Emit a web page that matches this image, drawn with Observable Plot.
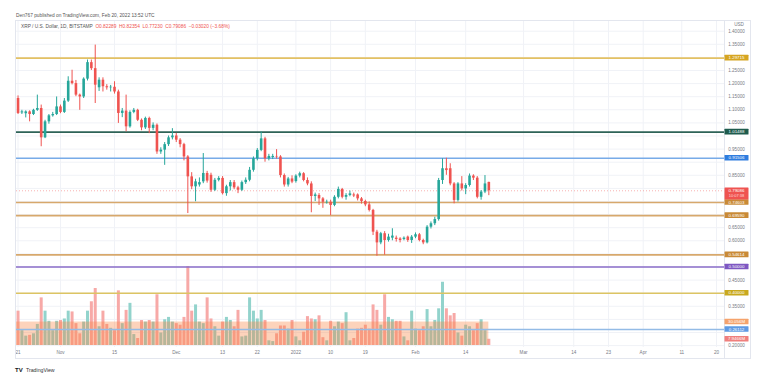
<!DOCTYPE html>
<html><head><meta charset="utf-8">
<script src="https://cdn.jsdelivr.net/npm/d3@7"></script>
<script src="https://cdn.jsdelivr.net/npm/@observablehq/plot@0.6"></script>
<style>
html,body{margin:0;padding:0;background:#fff}
#wrap{position:relative;width:760px;height:383px;overflow:hidden;background:#fff}
#wrap svg{position:absolute;left:0;top:0}
</style></head><body><div id="wrap"></div>
<script>
// ---------- DATA ----------
const startDay = "2021-10-21"; // first daily candle, one candle per day
const openP = [
1.143,1.088,1.085,1.092,1.082,1.098,1.105,0.993,1.054,1.077,1.082,
1.111,1.090,1.133,1.209,1.200,1.156,1.149,1.217,1.280,1.257,1.184,1.213,1.188,1.184,1.186,1.168,1.086,1.095,1.035,1.090,1.098,1.060,1.031,1.067,1.029,1.041,0.939,0.946,0.967,0.993,
1.000,0.984,0.967,0.920,0.844,0.806,0.813,0.825,0.857,0.850,0.793,0.831,0.838,0.780,0.806,0.822,0.802,0.793,0.822,0.831,0.869,0.913,0.945,0.989,0.913,0.918,0.922,0.920,0.849,0.813,0.836,
0.826,0.847,0.856,0.830,0.817,0.769,0.773,0.760,0.745,0.747,0.735,0.766,0.796,0.766,0.773,0.775,0.775,0.760,0.750,0.737,0.716,0.633,0.592,0.627,0.601,0.610,0.610,0.607,0.605,0.614,0.601,
0.614,0.623,0.601,0.592,0.652,0.665,0.681,0.830,0.875,0.875,0.817,0.754,0.817,0.798,0.811,0.847,0.839,0.766,0.786,0.82289];
const highP = [
1.153,1.098,1.096,1.096,1.102,1.156,1.118,1.060,1.082,1.090,1.149,
1.118,1.143,1.226,1.251,1.212,1.160,1.222,1.290,1.290,1.347,1.222,1.222,1.196,1.193,1.207,1.175,1.105,1.156,1.096,1.105,1.102,1.065,1.072,1.072,1.050,1.046,0.955,0.975,1.000,1.028,
1.010,0.990,0.972,0.925,0.860,0.835,0.840,0.933,0.865,0.858,0.838,0.845,0.845,0.812,0.830,0.830,0.808,0.828,0.840,0.880,0.920,0.952,1.015,0.995,0.930,0.930,0.948,0.925,0.855,0.842,0.848,
0.852,0.862,0.860,0.840,0.825,0.782,0.780,0.765,0.755,0.755,0.772,0.805,0.800,0.780,0.790,0.782,0.779,0.765,0.755,0.748,0.720,0.640,0.632,0.635,0.625,0.646,0.618,0.612,0.615,0.618,0.620,
0.630,0.628,0.606,0.658,0.672,0.690,0.838,0.913,0.915,0.894,0.822,0.822,0.845,0.818,0.855,0.852,0.845,0.792,0.849,0.82354];
const lowP = [
1.082,1.082,1.069,1.054,1.078,1.094,0.959,0.990,1.045,1.072,1.078,
1.085,1.086,1.128,1.195,1.150,1.098,1.143,1.210,1.250,1.124,1.170,1.168,1.175,1.168,1.160,1.048,1.070,1.016,1.030,1.085,1.055,1.020,1.025,1.009,1.020,0.930,0.930,0.888,0.960,0.985,
0.975,0.955,0.905,0.704,0.795,0.749,0.805,0.818,0.820,0.785,0.788,0.825,0.775,0.770,0.790,0.795,0.780,0.788,0.815,0.825,0.862,0.905,0.940,0.900,0.905,0.910,0.912,0.840,0.805,0.805,0.818,
0.820,0.840,0.825,0.810,0.707,0.750,0.735,0.724,0.740,0.696,0.730,0.760,0.760,0.755,0.768,0.765,0.752,0.740,0.730,0.710,0.620,0.541,0.585,0.545,0.595,0.600,0.595,0.592,0.600,0.594,0.590,
0.608,0.596,0.585,0.588,0.645,0.658,0.675,0.815,0.850,0.810,0.741,0.748,0.790,0.776,0.805,0.830,0.760,0.755,0.780,0.77230];
const closeP = [
1.086,1.092,1.092,1.082,1.098,1.105,0.993,1.054,1.077,1.082,1.111,
1.090,1.133,1.209,1.200,1.156,1.149,1.217,1.280,1.257,1.194,1.213,1.188,1.184,1.186,1.168,1.086,1.095,1.035,1.090,1.098,1.060,1.031,1.067,1.029,1.041,0.939,0.946,0.967,0.993,1.000,
0.984,0.967,0.920,0.844,0.806,0.825,0.822,0.857,0.828,0.793,0.831,0.838,0.780,0.806,0.822,0.802,0.793,0.822,0.831,0.869,0.913,0.945,0.989,0.913,0.922,0.922,0.920,0.849,0.813,0.836,0.824,
0.847,0.856,0.830,0.817,0.769,0.775,0.760,0.747,0.747,0.735,0.766,0.796,0.766,0.773,0.779,0.771,0.760,0.750,0.737,0.716,0.633,0.592,0.627,0.601,0.614,0.618,0.605,0.601,0.610,0.601,0.614,
0.623,0.601,0.592,0.652,0.665,0.681,0.830,0.875,0.868,0.817,0.754,0.817,0.798,0.811,0.847,0.839,0.766,0.786,0.817,0.79086];
const volumeM = [
44,19,12,13,15,27,61,44,31,19,31,
32,34,44,43,28,15,30,44,56,73,24,44,27,22,19,70,28,45,54,14,9,32,30,32,30,65,16,33,36,30,
28,26,36,101,44,52,30,28,61,34,24,12,30,36,32,24,45,11,12,61,44,34,45,32,6,5,15,25,25,21,32,
11,6,17,37,34,33,38,10,6,31,24,30,28,42,6,9,21,22,26,21,52,45,26,65,36,33,31,31,11,6,44,
21,19,24,46,24,32,47,81,47,38,41,16,12,26,24,19,28,33,19,8];
const volumeBandTop = 30.056;
const priceTicks = [1.40,1.35,1.25,1.20,1.15,1.10,1.05,0.95,0.85,0.65,0.60,0.45,0.35,0.20];
const gridPrices = [1.40,1.35,1.30,1.25,1.20,1.15,1.10,1.05,1.00,0.95,0.90,0.85,0.80,0.75,0.70,0.65,0.60,0.55,0.50,0.45,0.40,0.35,0.30,0.25,0.20];
const levelValues = [1.29715,1.01488,0.91506,0.74603,0.69590,0.54614,0.50000,0.40000,0.26112];
const timeTickDates = ["2021-10-21","2021-11-01","2021-11-15","2021-12-01","2021-12-13","2021-12-22","2022-01-01","2022-01-10","2022-01-19","2022-02-01","2022-02-14","2022-03-01","2022-03-14","2022-03-23","2022-04-01","2022-04-11","2022-04-20"];
const timeTickLabels = ["21","Nov","15","Dec","13","22","2022","10","19","Feb","14","Mar","14","23","Apr","11","20"];
const lastVolumeLabel = "7.9466M";
const headerLine1 = "Den767 published on TradingView.com, Feb 20, 2022 13:52 UTC";
const symbolText = "XRP / U.S. Dollar, 1D, BITSTAMP";
const ohlcText = "O0.82289  H0.82354  L0.77230  C0.79086  \u22120.03020 (\u22123.68%)";

// ---------- STYLE ----------
const levelLine = ["#e3c163","#2e6357","#78abe8","#d7a86c","#d7a86c","#d7a86c","#8a6cc8","#dcc463","#93bbe6"];
const levelBg   = ["#d6a520","#1e5b4d","#2f7ddf","#c98a36","#c98a36","#c98a36","#7e57c2","#c9a91e","#5e9ae4"];
const UP="#26a69a", DOWN="#ef5350";
const W=760, H=383, mL=16, mR=36, mT=21, mB=36;
const FONT='"Liberation Sans", Arial, sans-serif';
const DAY=864e5, anchor=Date.UTC(2021,10,1);
const xDomain=[new Date(anchor-11.4*DAY), new Date(anchor+172.07*DAY)];
const yDomain=[0.1927,1.437];

const start=new Date(startDay+"T00:00:00Z");
const dates=d3.utcDay.range(start, d3.utcDay.offset(start, openP.length));
const candles=dates.map((date,i)=>({date,open:openP[i],high:highP[i],low:lowP[i],close:closeP[i],volume:volumeM[i],up:closeP[i]>=openP[i]}));
const timeTicks=timeTickDates.map((d,i)=>({date:new Date(d+"T00:00:00Z"),label:timeTickLabels[i]}));
const levels=levelValues.map((v,i)=>({value:v,i}));
const last=candles[candles.length-1];

const common={width:W,height:H,marginLeft:mL,marginRight:mR,marginTop:mT,
  style:{background:"transparent",fontFamily:FONT},
  x:{type:"utc",domain:xDomain,axis:null}};

// grid layer
const gridPlot=Plot.plot({...common, marginBottom:mB, y:{domain:yDomain,axis:null},
  marks:[
    Plot.ruleY(gridPrices,{stroke:"#f0f2f7",strokeWidth:1}),
    Plot.ruleX(timeTicks,{x:"date",stroke:"#f0f2f7",strokeWidth:1})
  ]});

// volume layer
const volPlot=Plot.plot({...common, marginBottom:38, y:{domain:[0,415],axis:null},
  marks:[
    Plot.ruleX(candles,{x:"date",y1:0,y2:"volume",stroke:d=>d.up?"#92d3cc":"#f7a9a7",strokeWidth:3}),
    Plot.rectY([volumeBandTop],{x1:()=>xDomain[0],x2:()=>last.date,y1:0,y2:d=>d,fill:"#f9813d",fillOpacity:0.35})
  ]});

// price layer
const pricePlot=Plot.plot({...common, marginBottom:mB, y:{domain:yDomain,axis:null},
  marks:[
    Plot.ruleY(levels,{y:"value",stroke:d=>levelLine[d.i],strokeWidth:1.6}),
    Plot.ruleY([last.close],{stroke:DOWN,strokeOpacity:0.45,strokeDasharray:"1,2"}),
    Plot.ruleX(candles,{x:"date",y1:"low",y2:"high",stroke:d=>d.up?UP:DOWN,strokeWidth:1}),
    Plot.ruleX(candles,{x:"date",y1:"open",y2:"close",stroke:d=>d.up?UP:DOWN,strokeWidth:2.6}),
    Plot.text(priceTicks,{y:d=>d,text:d=>d3.format(".5f")(d),frameAnchor:"right",dx:12,textAnchor:"middle",fontSize:4.6,fill:"#777a85"}),
    Plot.text(timeTicks,{x:"date",text:"label",frameAnchor:"bottom",dy:6,fontSize:4.6,fill:"#777a85"})
  ]});

const wrap=document.getElementById("wrap");
wrap.appendChild(gridPlot);
wrap.appendChild(volPlot);
wrap.appendChild(pricePlot);

const svg=d3.select(pricePlot);
const py=pricePlot.scale("y"), vy=volPlot.scale("y");
// frame
svg.append("rect").attr("x",15.5).attr("y",20.5).attr("width",735).attr("height",338)
  .attr("fill","none").attr("stroke","#e3e6ee");
svg.append("line").attr("x1",724.5).attr("x2",724.5).attr("y1",20.5).attr("y2",358.5).attr("stroke","#e3e6ee");
svg.append("text").attr("x",739).attr("y",25.5).attr("text-anchor","middle").attr("font-size",4.6)
  .attr("fill","#777a85").attr("font-family",FONT).text("USD");

function tag(yPix,text,bg,sub){
  const h=5.6;
  const g=svg.append("g");
  g.append("rect").attr("x",724.5).attr("y",yPix-h/2).attr("width",24).attr("height",sub?12:h).attr("fill",bg).attr("rx",0.5);
  g.append("text").attr("x",736.5).attr("y",yPix+1.6).attr("text-anchor","middle").attr("font-size",4.4)
   .attr("fill","#fff").attr("font-family",FONT).text(text);
  if(sub) g.append("text").attr("x",736.5).attr("y",yPix+7.2).attr("text-anchor","middle").attr("font-size",4)
   .attr("fill","#ffd9d8").attr("font-family",FONT).text(sub);
}
levels.forEach(l=>{ if(l.value!==0.26112) tag(py.apply(l.value),d3.format(".5f")(l.value),levelBg[l.i]); });
tag(py.apply(last.close),d3.format(".5f")(last.close),DOWN,"10:07:38");
tag(vy.apply(volumeBandTop),volumeBandTop.toFixed(3)+"M","#f5a36c");
tag(py.apply(0.26112),"0.26112",levelBg[8]);
tag(vy.apply(last.volume),lastVolumeLabel,"#f07f7d");

// header
svg.append("text").attr("x",16).attr("y",16.5).attr("text-anchor","start").attr("font-size",4.8).attr("fill","#555")
  .attr("font-family",FONT).text(headerLine1);
const t2=svg.append("text").attr("x",21).attr("y",28).attr("text-anchor","start").attr("font-size",4.8).attr("font-family",FONT).attr("xml:space","preserve");
t2.append("tspan").attr("fill","#555").text(symbolText+"  ");
t2.append("tspan").attr("fill","#ef5350").text(ohlcText);
// footer logo
svg.append("text").attr("x",15).attr("y",372).attr("text-anchor","start").attr("font-size",6).attr("font-weight",900).attr("fill","#131722")
  .attr("font-family",FONT).text("TV");
svg.append("text").attr("x",26).attr("y",372).attr("text-anchor","start").attr("font-size",5.2).attr("fill","#333")
  .attr("font-family",FONT).text("TradingView");
</script></body></html>
